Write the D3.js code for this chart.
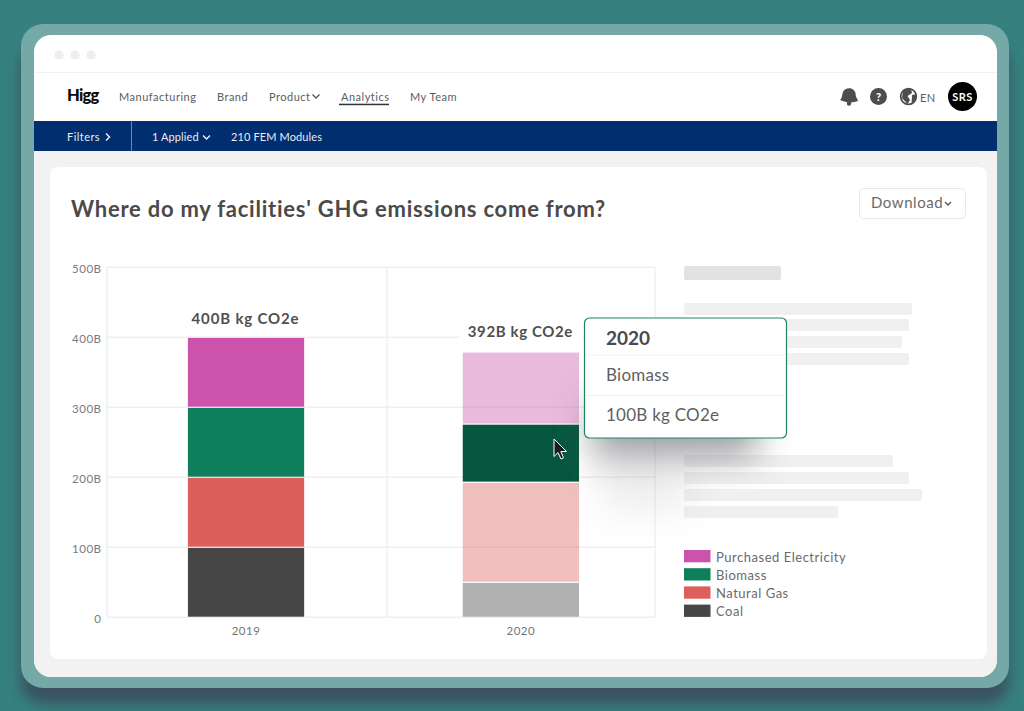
<!DOCTYPE html>
<html><head><meta charset="utf-8">
<style>html,body{margin:0;padding:0;background:#36817f;overflow:hidden}svg{display:block}text{font-family:Lato,"Open Sans",sans-serif}</style>
<script src="https://cdn.jsdelivr.net/npm/d3@7"></script></head>
<body><svg id="c" width="1024" height="711"></svg>
<script>
const years = ["2019","2020"];
const seriesNames = ["Coal","Natural Gas","Biomass","Purchased Electricity"];
const coal = [100,50];
const naturalGas = [100,143];
const biomass = [100,83];
const purchasedElectricity = [100,103];
const totalLabels = ["400B kg CO2e","392B kg CO2e"];
const yTicks = [0,100,200,300,400,500];
const colors = ["#464646","#dc5f5b","#0d805b","#cb53ab"];
const navItems = [["Manufacturing",119],["Brand",217],["Product",269],["Analytics",341],["My Team",410]];
const legendOrder = ["Purchased Electricity","Biomass","Natural Gas","Coal"];
const skeleton = [[684,266,97,14,"#e2e2e2"],[684,303,228,12,"#f0f0f0"],[684,319,225,12,"#f0f0f0"],[684,336,218,12,"#f0f0f0"],[684,353,225,12,"#f0f0f0"],
 [684,455,209,12,"#f0f0f0"],[684,472,225,12,"#f0f0f0"],[684,489,238,12,"#f0f0f0"],[684,506,154,12,"#f0f0f0"]];

const svg = d3.select("#c");
const defs = svg.append("defs");
defs.append("filter").attr("id","b1").attr("x","-20%").attr("y","-20%").attr("width","140%").attr("height","140%").append("feGaussianBlur").attr("stdDeviation",7);
defs.append("filter").attr("id","b2").attr("x","-40%").attr("y","-60%").attr("width","180%").attr("height","220%").append("feGaussianBlur").attr("stdDeviation",18);
const R=(p,x,y,w,h,f,r)=>p.append("rect").attr("x",x).attr("y",y).attr("width",w).attr("height",h).attr("fill",f).attr("rx",r||0);
const T=(p,s,x,y,size,fill,weight,anchor,ls)=>p.append("text").text(s).attr("x",x).attr("y",y).attr("font-size",size).attr("fill",fill).attr("font-weight",weight||400).attr("text-anchor",anchor||"start").attr("letter-spacing",ls||0);
const chev=(p,x,y,s,col,w,dir)=>p.append("path").attr("d",dir==="r"?`M${x},${y-s}L${x+s},${y}L${x},${y+s}`:`M${x},${y}L${x+s},${y+s}L${x+2*s},${y}`).attr("fill","none").attr("stroke",col).attr("stroke-width",w||1.4);

// frame
R(svg,0,0,1024,711,"#36817f");
R(svg,21,44,988,660,"#3a4a5c",22).attr("filter","url(#b1)").attr("opacity",.85);
R(svg,21,24,988,664,"#75a9a8",22);
R(svg,34,35,963,642,"#ffffff",17);
const clip=defs.append("clipPath").attr("id","win"); R(clip,34,35,963,642,"#000",17);
const win=svg.append("g").attr("clip-path","url(#win)");
R(win,34,151,963,526,"#f2f2f2");
R(win,34,72,963,1,"#f2f2f2");
[59,75,91].forEach(x=>win.append("circle").attr("cx",x).attr("cy",55).attr("r",4.5).attr("fill","#eeeeee"));

// nav
T(win,"Higg",67,100.5,16.5,"#0c0c0c",900,"start",-.7);
navItems.forEach(([s,x])=>T(win,s,x,100.5,11,"#5c5c5c",400,"start",.5));
chev(win,312.5,94.5,3.5,"#555",1.3);
R(win,339,103.7,50,1.5,"#333");
// icons
const ic="#4d4d4d";
win.append("path").attr("d","M840,100 C842.5,98 842,94 843,92 C844,88.5 850,87 853,89.5 C856,91.5 855.5,94.5 856,96.5 C856.5,98.5 858,99.5 858,101 C853,103 846,103 840,100 Z").attr("fill",ic);
win.append("circle").attr("cx",849).attr("cy",103.5).attr("r",2.2).attr("fill",ic);
win.append("circle").attr("cx",878.5).attr("cy",96.5).attr("r",8.5).attr("fill",ic);
T(win,"?",878.5,100.5,11,"#fff",900,"middle");
win.append("circle").attr("cx",908.5).attr("cy",96.5).attr("r",7.8).attr("fill","#fff").attr("stroke",ic).attr("stroke-width",1.8);
win.append("path").attr("d","M903,90 L911,88.5 L912,93 L907.5,96 L910,100 L907.5,104 L902,98 Z M912,95 L917,94 L915.5,100 L911.5,104 Z").attr("fill",ic);
T(win,"EN",920,102,11,"#5c5c5c",400,"start",.3);
win.append("circle").attr("cx",962.5).attr("cy",96.5).attr("r",14.5).attr("fill","#000");
T(win,"SRS",962.5,100.5,11,"#fff",700,"middle",.4);

// blue bar
R(win,34,121,963,30,"#002e6f");
R(win,131,121,1,30,"#6d86ab");
T(win,"Filters",67,141,11,"#e8edf4",400,"start",.45);
chev(win,106,137,3.5,"#e8edf4",1.5,"r");
T(win,"1 Applied",152,141,11,"#e8edf4",400,"start",.1);
chev(win,203,135.5,3.5,"#e8edf4",1.5);
T(win,"210 FEM Modules",231,141,11,"#e8edf4",400,"start",.12);

// card
R(win,50,167,937,492,"#ffffff",8);
T(win,"Where do my facilities' GHG emissions come from?",71,217,22,"#4a4a4a",700,"start",.76);
R(win,859.5,188.5,106,30,"#fff",4).attr("stroke","#e9e9e9").attr("stroke-width",1);
T(win,"Download",871,208,15,"#6a6a6a",400,"start",.55);
chev(win,945,202,3,"#555",1.4);

// chart
const y=d3.scaleLinear().domain([0,500]).range([617.3,267.3]);
const x=d3.scaleBand().domain(years).range([108.6,658.3]).paddingInner(.577).paddingOuter(.2885);
const vDividers=d3.scaleLinear().domain([0,1,2]).range([107,387,655]);
const chart=win.append("g");
const gridCol="#efefef";
yTicks.forEach(t=>chart.append("line").attr("x1",107).attr("x2",655).attr("y1",y(t)).attr("y2",y(t)).attr("stroke",gridCol).attr("stroke-width",1.4));
[0,1,2].forEach(i=>chart.append("line").attr("x1",vDividers(i)).attr("x2",vDividers(i)).attr("y1",y(500)).attr("y2",y(0)).attr("stroke",gridCol).attr("stroke-width",1.4));

const yAxis=d3.axisLeft(y).tickValues(yTicks).tickSize(0).tickPadding(0).tickFormat(d=>d===0?"0":d+"B");
const ya=chart.append("g").attr("transform","translate(101.5,0)").call(yAxis);
ya.select(".domain").remove();
ya.selectAll("text").attr("font-size",11.5).attr("fill","#7a7a7a").attr("letter-spacing",.5).attr("font-family","Lato").attr("dy","0.42em");
const xAxis=d3.axisBottom(x).tickSize(0).tickPadding(0);
const xa=chart.append("g").attr("transform","translate(0,627)").call(xAxis);
xa.select(".domain").remove();
xa.selectAll("text").attr("font-size",11.5).attr("fill","#757575").attr("letter-spacing",.5).attr("font-family","Lato");

const rows=years.map((yr,i)=>({year:yr,"Coal":coal[i],"Natural Gas":naturalGas[i],"Biomass":biomass[i],"Purchased Electricity":purchasedElectricity[i]}));
const stack=d3.stack().keys(seriesNames)(rows);
const color=d3.scaleOrdinal(seriesNames,colors);
const hot=(k,yr)=>yr==="2020"&&k==="Biomass";

stack.forEach(s=>{
  chart.selectAll(null).data(s).join("rect")
   .attr("x",d=>x(d.data.year)).attr("width",x.bandwidth())
   .attr("y",d=>y(d[1])+.6).attr("height",d=>y(d[0])-y(d[1])-1.2)
   .attr("fill",d=>hot(s.key,d.data.year)?"#05583f":color(s.key))
   .attr("opacity",d=>d.data.year==="2020"&&!hot(s.key,d.data.year)?(s.key==="Coal"?.42:.4):1);
});
// total labels
years.forEach((yr,i)=>{
  const top=d3.sum(seriesNames,k=>rows[i][k]);
  const cx=x(yr)+x.bandwidth()/2;
  const yy=y(top)-(i===0?13:15);
  if(i===1) R(chart,cx-62,yy-14,124,21,"#fff");
  T(chart,totalLabels[i],cx-.5,yy,15,"#505050",700,"middle",i===0?.85:.62);
});

// skeleton
skeleton.forEach(([a,b,w,h,f])=>R(win,a,b,w,h,f,2));

// legend
legendOrder.forEach((k,i)=>{
  R(win,684,550+i*18.2,26.5,12.3,color(k));
  T(win,k,716,561.5+i*18.2,13,"#6a6a6a",400,"start",.52);
});

// tooltip
const sh=win.append("g");
R(sh,592,400,165,56,"#5a5a64").attr("filter","url(#b2)").attr("opacity",.6);
R(sh,600,460,90,50,"#8a8a96").attr("filter","url(#b2)").attr("opacity",.15);
const tip=win.append("g");
R(tip,584.5,318,202,120,"#ffffff",5).attr("stroke","#1f8462").attr("stroke-width",1.2);
R(tip,586,354.5,199,1,"#f2f2f2");
R(tip,586,395,199,1,"#f2f2f2");
T(tip,"2020",606,345,19,"#4a4a4a",700);
T(tip,"Biomass",606,381,17,"#5f5f5f",400,"start",.25);
T(tip,"100B kg CO2e",606,421,17,"#5f5f5f",400,"start",.25);

// cursor
win.append("path").attr("d","M554,439 L554,456.5 L558,452.6 L561,459 L563.6,457.8 L560.8,451.6 L566.4,451.4 Z").attr("fill","#1c1c1c").attr("stroke","#fff").attr("stroke-width",1);
</script></body></html>
